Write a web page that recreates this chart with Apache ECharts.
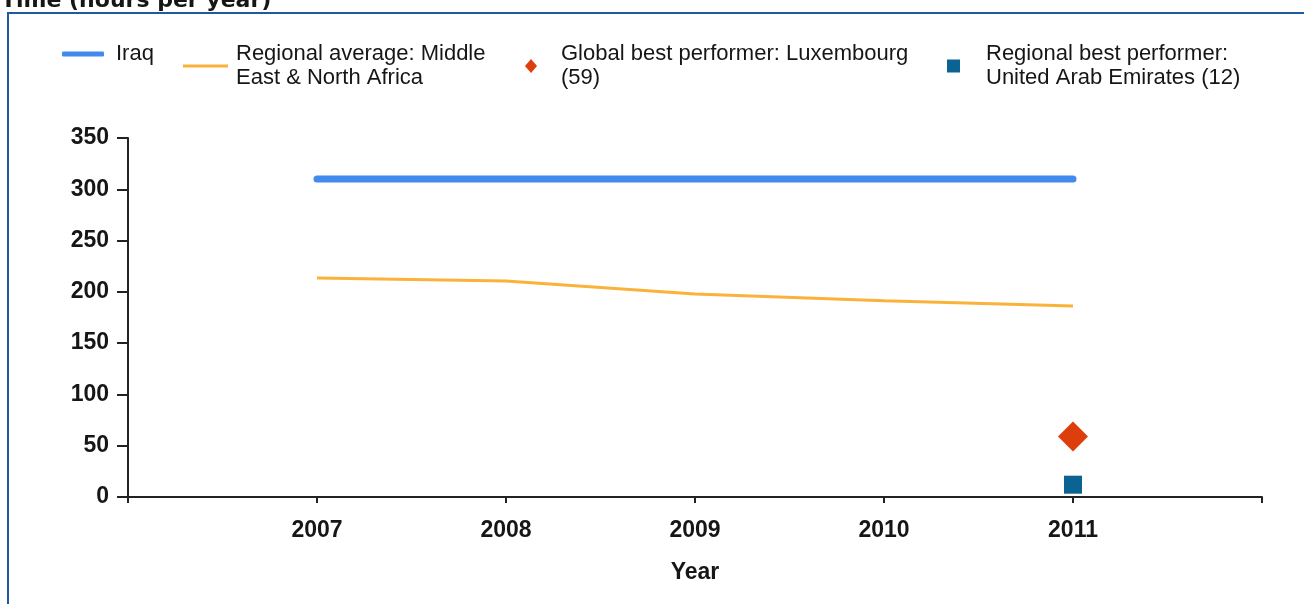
<!DOCTYPE html>
<html>
<head>
<meta charset="utf-8">
<script src="https://cdn.jsdelivr.net/npm/echarts@6/dist/echarts.min.js"></script>
<style>
  html, body { margin: 0; padding: 0; background: #fff; }
  #chart { width: 1304px; height: 604px; }
</style>
</head>
<body>
<div id="chart"></div>
<script>
// data
var years = [2007, 2008, 2009, 2010, 2011]
var iraq = [310, 310, 310, 310, 310]
var regionalAvg = [213.5, 210.6, 198, 191.4, 186.2]
var bestYear = 2011
var globalBest = [59]
var regionalBest = [12]
var names = [
  'Iraq',
  'Regional average: Middle\nEast & North Africa',
  'Global best performer: Luxembourg\n(59)',
  'Regional best performer:\nUnited Arab Emirates (12)'
]
var yTicks = [0, 50, 100, 150, 200, 250, 300, 350]

var labelFont = 'Liberation Sans'
var ink = '#161616'

function pairs (xs, ys) {
  return xs.map(function (x, i) { return [x, ys[i]] })
}

function legendAt (name, left, icon, w, h, gap) {
  return {
    data: [name],
    left: left,
    top: 37,
    icon: icon,
    itemWidth: w,
    itemHeight: h,
    selectedMode: false,
    itemStyle: { borderWidth: 0, opacity: 1 },
    textStyle: {
      fontFamily: labelFont,
      fontSize: 22,
      lineHeight: 24,
      color: ink,
      padding: [0, 0, 0, gap]
    }
  }
}

var chart = echarts.init(document.getElementById('chart'))
chart.setOption({
  animation: false,
  backgroundColor: '#fff',
  title: {
    text: 'Time (hours per year)',
    left: 1,
    top: -10,
    padding: 0,
    textStyle: { fontFamily: 'DejaVu Sans', fontWeight: 'bold', fontSize: 22, color: ink }
  },
  graphic: [{
    type: 'rect',
    z: -1,
    shape: { x: 8, y: 13, width: 1400, height: 700 },
    style: { fill: 'none', stroke: '#1f5aa0', lineWidth: 2 }
  }],
  legend: [
    legendAt(names[0], 57, 'roundRect', 42, 5, 7),
    legendAt(names[1], 178, 'rect', 45, 3, 3),
    legendAt(names[2], 520, 'diamond', 12, 14, 19),
    legendAt(names[3], 942, 'rect', 13, 13, 21)
  ],
  grid: { left: 128, right: 42, top: 138, bottom: 107 },
  xAxis: {
    type: 'value',
    min: 2006,
    max: 2012,
    interval: 1,
    name: 'Year',
    nameLocation: 'middle',
    nameGap: 64,
    nameTextStyle: { fontFamily: labelFont, fontWeight: 'bold', fontSize: 23, color: ink },
    axisLine: { lineStyle: { color: '#222', width: 2 } },
    axisTick: { length: 6, lineStyle: { color: '#222', width: 2 } },
    axisLabel: {
      margin: 22,
      fontFamily: labelFont,
      fontWeight: 'bold',
      fontSize: 23,
      color: ink,
      formatter: function (v) { return years.indexOf(v) >= 0 ? String(v) : '' }
    },
    splitLine: { show: false }
  },
  yAxis: {
    type: 'value',
    min: yTicks[0],
    max: yTicks[yTicks.length - 1],
    interval: 50,
    axisLine: { show: true, lineStyle: { color: '#222', width: 2 } },
    axisTick: { show: true, length: 11, lineStyle: { color: '#222', width: 2 } },
    axisLabel: { margin: 19, fontFamily: labelFont, fontWeight: 'bold', fontSize: 23, color: ink },
    splitLine: { show: false }
  },
  series: [
    {
      name: names[0],
      type: 'line',
      data: pairs(years, iraq),
      showSymbol: false,
      color: '#418bef',
      lineStyle: { width: 7, cap: 'round' }
    },
    {
      name: names[1],
      type: 'line',
      data: pairs(years, regionalAvg),
      showSymbol: false,
      color: '#fbb23a',
      lineStyle: { width: 3 }
    },
    {
      name: names[2],
      type: 'scatter',
      data: [[bestYear, globalBest[0]]],
      symbol: 'diamond',
      symbolSize: 30,
      color: '#de3e0b',
      itemStyle: { opacity: 1 }
    },
    {
      name: names[3],
      type: 'scatter',
      data: [[bestYear, regionalBest[0]]],
      symbol: 'rect',
      symbolSize: 18,
      color: '#0b6391',
      itemStyle: { opacity: 1 }
    }
  ]
})
</script>
</body>
</html>
